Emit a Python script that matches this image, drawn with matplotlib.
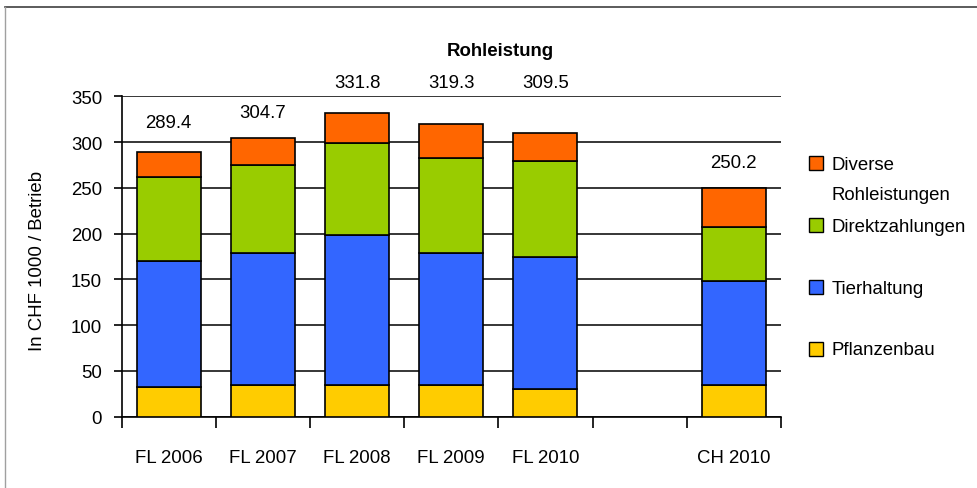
import numpy as np
import matplotlib
matplotlib.use("Agg")
import matplotlib.pyplot as plt
from matplotlib import font_manager
from matplotlib.patches import Rectangle
from matplotlib.lines import Line2D

# data
categories = ["FL 2006", "FL 2007", "FL 2008", "FL 2009", "FL 2010", "", "CH 2010"]
pflanzenbau = [32, 35, 35, 35, 30, 35]
tierhaltung = [138, 144, 163, 144, 144, 113]
direktzahlungen = [92, 96, 101, 104, 105, 59]
diverse = [27.4, 29.7, 32.8, 36.3, 30.5, 43.2]
totals = [289.4, 304.7, 331.8, 319.3, 309.5, 250.2]

series_names = ["Pflanzenbau", "Tierhaltung", "Direktzahlungen", "Diverse\nRohleistungen"]
colors = ["#FFCC00", "#3366FF", "#99CC00", "#FF6600"]

# layout of the total labels (data units, as placed in the original)
label_y = [321, 332, 365, 365, 365, 278]

names = {f.name for f in font_manager.fontManager.ttflist}
if "Liberation Sans Narrow" in names:
    fam = ["Liberation Sans Narrow", "DejaVu Sans"]
    k = 1.0
else:
    fam = ["Liberation Sans", "DejaVu Sans"]
    k = 0.84
plt.rcParams["font.family"] = fam
fs = 16 * k

fig = plt.figure(figsize=(9.78, 4.89), dpi=100)
ax = fig.add_axes([0.1244, 0.1458, 0.674, 0.6552])

pos = [i for i, c in enumerate(categories) if c]
labels = [c for c in categories if c]
stack = [pflanzenbau, tierhaltung, direktzahlungen, diverse]

bottom = np.zeros(len(pos))
for vals, col in zip(stack, colors):
    ax.bar(pos, vals, width=0.68, bottom=bottom, color=col,
           edgecolor="black", linewidth=1.2, zorder=3)
    bottom += np.array(vals)

for x, t, ly in zip(pos, totals, label_y):
    ax.text(x, ly, f"{t:.1f}", ha="center", va="center", fontsize=fs)

ax.set_xlim(-0.5, len(categories) - 0.5)
ax.set_ylim(0, 350)
ax.set_yticks(np.arange(0, 351, 50))
ax.yaxis.grid(True, color="black", linewidth=1.1, zorder=0)
ax.set_axisbelow(True)

ax.set_xticks(pos)
ax.set_xticklabels(labels)
ax.set_xticks(np.arange(-0.5, len(categories), 1), minor=True)
ax.tick_params(axis="x", which="major", length=0, pad=23, labelsize=fs)
ax.tick_params(axis="x", which="minor", length=8, width=1.2, direction="out")
ax.tick_params(axis="y", length=6, width=1.2, pad=8, labelsize=fs)

for s in ["top", "right"]:
    ax.spines[s].set_visible(False)
ax.spines["left"].set_linewidth(1.2)
ax.spines["bottom"].set_linewidth(1.2)

ax.set_ylabel("In CHF 1000 / Betrieb", fontsize=fs)
ax.yaxis.set_label_coords(-0.1155, 0.489)

fig.text(0.512, 0.894, "Rohleistung", ha="center", va="center",
         fontsize=fs, fontweight="bold")

# legend drawn by hand to follow the uneven spacing of the original
W, H = 978.0, 489.0
leg_y = [350, 288, 226, 164]
for yc, col, name in zip(leg_y, colors, series_names):
    fig.add_artist(Rectangle((809 / W, 1 - (yc + 7) / H), 14 / W, 14 / H,
                             transform=fig.transFigure, facecolor=col,
                             edgecolor="black", linewidth=1.0))
    for i, line in enumerate(name.split("\n")):
        fig.text(832 / W, 1 - (yc + 1 + 31 * i) / H, line, ha="left",
                 va="center", fontsize=fs)

# outer frame
fig.add_artist(Line2D([5 / W, 1], [1 - 8 / H, 1 - 8 / H], color="#404040", linewidth=1.2))
fig.add_artist(Line2D([5 / W, 5 / W], [0, 1 - 8 / H], color="#a0a0a0", linewidth=1.0))

fig.savefig("out.png", dpi=100)
